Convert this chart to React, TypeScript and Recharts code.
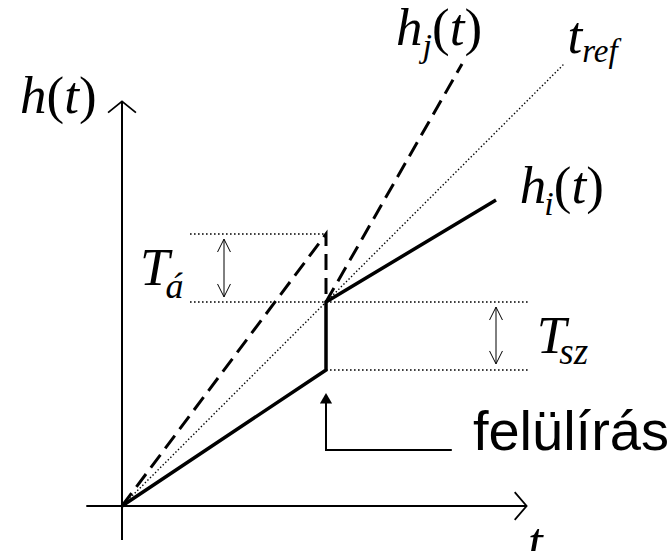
import React from 'react';
import { ComposedChart, Line, XAxis, YAxis, ReferenceDot, Scatter } from 'recharts';

// clock curves (t, h)
const tref = [{ t: 0, h: 0 }, { t: 13, h: 13 }];
const hj = [{ t: 0, h: 0 }, { t: 6, h: 8 }, { t: 6, h: 6 }, { t: 10, h: 13 }];
const hi = [{ t: 0, h: 0 }, { t: 6, h: 4 }, { t: 6, h: 6 }, { t: 11, h: 9 }];

// dotted guide levels
const guideTop = [{ t: 2, h: 8 }, { t: 6, h: 8 }];
const guideMid = [{ t: 2, h: 6 }, { t: 12, h: 6 }];
const guideLow = [{ t: 6, h: 4 }, { t: 12, h: 4 }];

// axes
const xAxisLine = [{ t: -1.05, h: 0 }, { t: 11.9, h: 0 }];
const xArrow = [{ t: 11.55, h: 0.41 }, { t: 11.9, h: 0 }, { t: 11.55, h: -0.41 }];
const yAxisLine = [{ t: 0, h: -1 }, { t: 0, h: 11.9 }];
const yArrow = [{ t: -0.41, h: 11.57 }, { t: 0, h: 11.9 }, { t: 0.41, h: 11.57 }];

// T_á and T_sz spans
const taSpan = [{ t: 3, h: 6.15 }, { t: 3, h: 7.85 }];
const taUp = [{ t: 2.81, h: 7.47 }, { t: 3, h: 7.85 }, { t: 3.19, h: 7.47 }];
const taDown = [{ t: 2.81, h: 6.53 }, { t: 3, h: 6.15 }, { t: 3.19, h: 6.53 }];
const tszSpan = [{ t: 11, h: 4.18 }, { t: 11, h: 5.85 }];
const tszUp = [{ t: 10.81, h: 5.47 }, { t: 11, h: 5.85 }, { t: 11.19, h: 5.47 }];
const tszDown = [{ t: 10.81, h: 4.56 }, { t: 11, h: 4.18 }, { t: 11.19, h: 4.56 }];

// "felülírás" pointer
const overwrite = [{ t: 9.7, h: 1.65 }, { t: 6, h: 1.65 }, { t: 6, h: 3.05 }];
const overwriteTip = [{ t: 6, h: 3.12 }];

type Part = { s: string; it?: boolean; sub?: boolean; dx?: number };
const labels: { t: number; h: number; size: number; sub: number; shift: number; sans?: boolean; parts: Part[] }[] = [
  { t: -3, h: 11.56, size: 53, sub: 34, shift: 12, parts: [{ s: 'h', it: true }, { s: '(' }, { s: 't', it: true }, { s: ')' }] },
  { t: 8.06, h: 13.56, size: 53, sub: 34, shift: 12, parts: [{ s: 'h', it: true }, { s: 'j', it: true, sub: true }, { s: '(' }, { s: 't', it: true }, { s: ')' }] },
  { t: 13.1, h: 13.32, size: 53, sub: 33, shift: 9, parts: [{ s: 't', it: true }, { s: 'ref', it: true, sub: true }] },
  { t: 11.7, h: 8.91, size: 53, sub: 34, shift: 12, parts: [{ s: 'h', it: true }, { s: 'i', it: true, sub: true, dx: -2 }, { s: '(' }, { s: 't', it: true }, { s: ')' }] },
  { t: 0.53, h: 6.5, size: 53, sub: 36, shift: 13, parts: [{ s: 'T', it: true }, { s: 'á', it: true, sub: true, dx: -4 }] },
  { t: 12.2, h: 4.5, size: 53, sub: 37, shift: 11, parts: [{ s: 'T', it: true }, { s: 'sz', it: true, sub: true, dx: -7 }] },
  { t: 10.32, h: 1.65, size: 56, sub: 56, shift: 0, sans: true, parts: [{ s: 'felülírás' }] },
  { t: 11.94, h: -1.55, size: 53, sub: 34, shift: 0, parts: [{ s: 't', it: true }] },
];

const ink = '#000';
const serif = '"Liberation Serif", "Times New Roman", "DejaVu Serif", serif';
const sans = '"Liberation Sans", Arial, sans-serif';

function RichLabel({ viewBox, item }: any) {
  const x = viewBox.x + viewBox.width / 2;
  const y = viewBox.y + viewBox.height / 2;
  let inSub = false;
  return (
    <text x={x} y={y} fill={ink} style={{ fontFamily: item.sans ? sans : serif, fontSize: item.size }}>
      {item.parts.map((p: Part, i: number) => {
        let dy = 0;
        if (p.sub && !inSub) dy = item.shift;
        if (!p.sub && inSub) dy = -item.shift;
        inSub = !!p.sub;
        return (
          <tspan
            key={i}
            dy={dy}
            dx={p.dx || 0}
            style={{ fontStyle: p.it ? 'italic' : 'normal', fontSize: p.sub ? item.sub : item.size }}
          >
            {p.s}
          </tspan>
        );
      })}
    </text>
  );
}

export default function App() {
  const line = (key: string, data: any[], width: number, dash?: string) => (
    <Line
      key={key}
      data={data}
      dataKey="h"
      type="linear"
      stroke={ink}
      strokeWidth={width}
      strokeDasharray={dash}
      dot={false}
      activeDot={false}
      isAnimationActive={false}
      legendType="none"
    />
  );

  return (
    <div style={{ position: 'absolute', left: 0, top: 0, background: '#fff' }}>
      <ComposedChart width={668} height={551} margin={{ top: 30, right: 2, bottom: 11, left: 20 }}>
        <XAxis type="number" dataKey="t" domain={[-3, 16]} hide allowDataOverflow />
        <YAxis type="number" dataKey="h" domain={[-1, 14]} hide allowDataOverflow />
        {line('xAxis', xAxisLine, 2)}
        {line('xArrow', xArrow, 1.8)}
        {line('yAxis', yAxisLine, 2)}
        {line('yArrow', yArrow, 1.8)}
        {line('gTop', guideTop, 1.6, '1.6 2.4')}
        {line('gMid', guideMid, 1.6, '1.6 2.4')}
        {line('gLow', guideLow, 1.6, '1.6 2.4')}
        {line('tref', tref, 1.4, '1.4 2.2')}
        {line('hj', hj, 3, '16 8')}
        {line('hi', hi, 3.5)}
        {line('taSpan', taSpan, 1)}
        {line('taUp', taUp, 1)}
        {line('taDown', taDown, 1)}
        {line('tszSpan', tszSpan, 1)}
        {line('tszUp', tszUp, 1)}
        {line('tszDown', tszDown, 1)}
        {line('overwrite', overwrite, 2)}
        <Scatter data={overwriteTip} dataKey="h" shape="triangle" fill={ink} isAnimationActive={false} legendType="none" />
        {labels.map((item, i) => (
          <ReferenceDot
            key={i}
            x={item.t}
            y={item.h}
            r={1}
            fill="none"
            stroke="none"
            ifOverflow="visible"
            label={{ content: (props: any) => <RichLabel viewBox={props.viewBox} item={item} /> }}
          />
        ))}
      </ComposedChart>
    </div>
  );
}
